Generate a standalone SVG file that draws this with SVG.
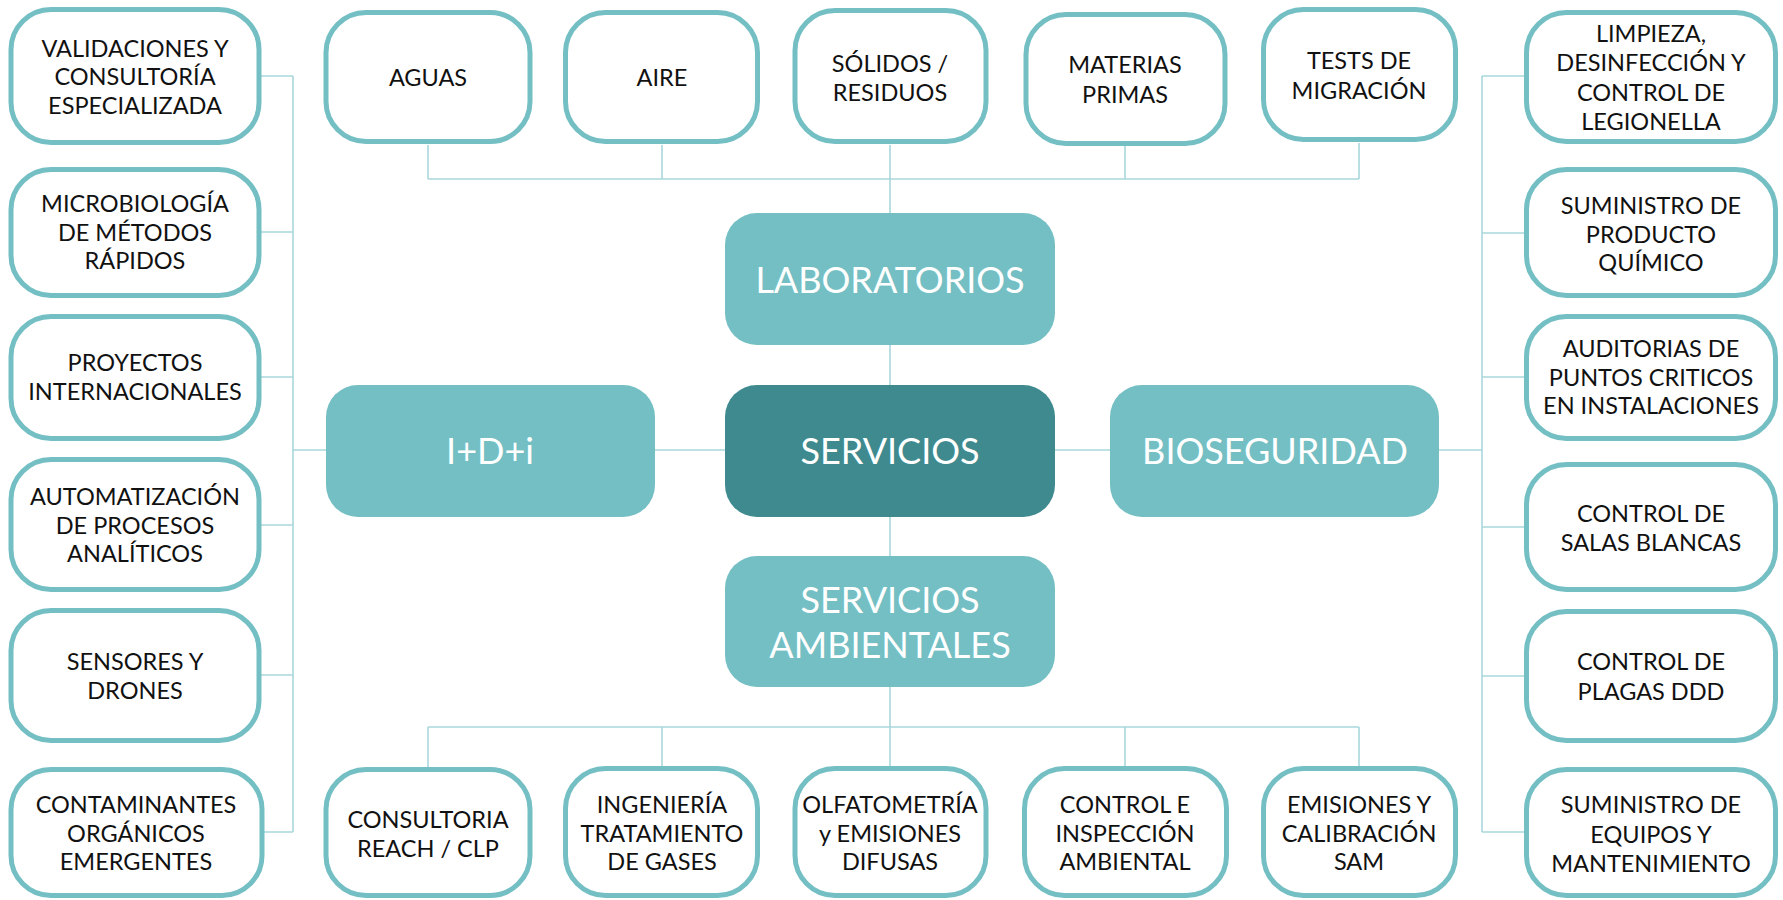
<svg xmlns="http://www.w3.org/2000/svg" width="1783" height="900" viewBox="0 0 1783 900">
<style>
.box{fill:#fff;stroke:#74BFC4;stroke-width:5}
.hub{fill:#74BFC4}
.core{fill:#3E8A8F}
.t{font-family:Lato,"Open Sans","DejaVu Sans",sans-serif;font-size:23.5px;fill:#111;text-anchor:middle}
.b{font-family:Lato,"Open Sans","DejaVu Sans",sans-serif;font-size:36px;fill:#fff;text-anchor:middle}
.c{fill:none;stroke:#A9D7DC;stroke-width:1.6}
</style>
<rect width="1783" height="900" fill="#fff"/>
<g id="connectors">
<path class="c" d="M261 76H293M261 232H293M261 377H293M261 525H293M261 675H293M261 832H293M293 76V832M293 450H326"/>
<path class="c" d="M655 450H725M1055 450H1110"/>
<path class="c" d="M1439 450H1482M1482 76V832M1482 76H1524M1482 233H1524M1482 377H1524M1482 527H1524M1482 676H1524M1482 832H1524"/>
<path class="c" d="M428 145V179M662 145V179M890 145V213M1125 145V179M1359 143V179M428 179H1359"/>
<path class="c" d="M890 345V385M890 517V556"/>
<path class="c" d="M890 687V766M428 727H1359M428 727V767M662 727V766M1125 727V766M1359 727V766"/>
</g>
<g id="n-validaciones"><rect class="box" x="11" y="9.5" width="248" height="133" rx="40"/><text class="t"><tspan x="135" y="56.6">VALIDACIONES Y</tspan><tspan x="135" y="85.1">CONSULTORÍA</tspan><tspan x="135" y="113.6">ESPECIALIZADA</tspan></text></g>
<g id="n-microbiologia"><rect class="box" x="11" y="169.5" width="248" height="126" rx="40"/><text class="t"><tspan x="135" y="212.1">MICROBIOLOGÍA</tspan><tspan x="135" y="240.6">DE MÉTODOS</tspan><tspan x="135" y="269.1">RÁPIDOS</tspan></text></g>
<g id="n-proyectos"><rect class="box" x="11" y="316.5" width="248" height="122" rx="40"/><text class="t"><tspan x="135" y="371.4">PROYECTOS</tspan><tspan x="135" y="399.9">INTERNACIONALES</tspan></text></g>
<g id="n-automatizacion"><rect class="box" x="11" y="459.5" width="248" height="130" rx="40"/><text class="t"><tspan x="135" y="505.1">AUTOMATIZACIÓN</tspan><tspan x="135" y="533.6">DE PROCESOS</tspan><tspan x="135" y="562.1">ANALÍTICOS</tspan></text></g>
<g id="n-sensores"><rect class="box" x="11" y="610.5" width="248" height="130" rx="40"/><text class="t"><tspan x="135" y="670.4">SENSORES Y</tspan><tspan x="135" y="698.9">DRONES</tspan></text></g>
<g id="n-contaminantes"><rect class="box" x="11" y="769.5" width="251" height="126" rx="40"/><text class="t"><tspan x="136" y="813.1">CONTAMINANTES</tspan><tspan x="136" y="841.6">ORGÁNICOS</tspan><tspan x="136" y="870.1">EMERGENTES</tspan></text></g>

<g id="n-aguas"><rect class="box" x="326" y="12.5" width="204" height="129" rx="40"/><text class="t"><tspan x="428" y="85.6">AGUAS</tspan></text></g>
<g id="n-aire"><rect class="box" x="565.5" y="12.5" width="192" height="129" rx="40"/><text class="t"><tspan x="662" y="85.6">AIRE</tspan></text></g>
<g id="n-solidos"><rect class="box" x="795" y="10.5" width="191" height="131" rx="40"/><text class="t"><tspan x="890" y="71.6">SÓLIDOS /</tspan><tspan x="890" y="101.1">RESIDUOS</tspan></text></g>
<g id="n-materias"><rect class="box" x="1026" y="14.5" width="199" height="129" rx="40"/><text class="t"><tspan x="1125" y="72.6">MATERIAS</tspan><tspan x="1125" y="103.1">PRIMAS</tspan></text></g>
<g id="n-tests"><rect class="box" x="1263.5" y="9.5" width="192" height="130" rx="40"/><text class="t"><tspan x="1359" y="68.6">TESTS DE</tspan><tspan x="1359" y="99.1">MIGRACIÓN</tspan></text></g>

<g id="n-laboratorios"><rect class="hub" x="725" y="213" width="330" height="132" rx="32"/><text class="b"><tspan x="890" y="292.5">LABORATORIOS</tspan></text></g>
<g id="n-idi"><rect class="hub" x="326" y="385" width="329" height="132" rx="32"/><text class="b"><tspan x="490" y="464">I+D+i</tspan></text></g>
<g id="n-servicios"><rect class="core" x="725" y="385" width="330" height="132" rx="32"/><text class="b"><tspan x="890" y="464">SERVICIOS</tspan></text></g>
<g id="n-bioseguridad"><rect class="hub" x="1110" y="385" width="329" height="132" rx="32"/><text class="b"><tspan x="1275" y="464">BIOSEGURIDAD</tspan></text></g>
<g id="n-ambientales"><rect class="hub" x="725" y="556" width="330" height="131" rx="32"/><text class="b"><tspan x="890" y="613">SERVICIOS</tspan><tspan x="890" y="658">AMBIENTALES</tspan></text></g>

<g id="n-consultoria"><rect class="box" x="326" y="769.5" width="204" height="126" rx="40"/><text class="t"><tspan x="428" y="828.4">CONSULTORIA</tspan><tspan x="428" y="856.9">REACH / CLP</tspan></text></g>
<g id="n-ingenieria"><rect class="box" x="565.5" y="768.5" width="192" height="127" rx="40"/><text class="t"><tspan x="662" y="813.1">INGENIERÍA</tspan><tspan x="662" y="841.6">TRATAMIENTO</tspan><tspan x="662" y="870.1">DE GASES</tspan></text></g>
<g id="n-olfatometria"><rect class="box" x="795" y="768.5" width="191" height="127" rx="40"/><text class="t"><tspan x="890" y="813.1">OLFATOMETRÍA</tspan><tspan x="890" y="841.6">y EMISIONES</tspan><tspan x="890" y="870.1">DIFUSAS</tspan></text></g>
<g id="n-control"><rect class="box" x="1024.5" y="768.5" width="202" height="127" rx="40"/><text class="t"><tspan x="1125" y="813.1">CONTROL E</tspan><tspan x="1125" y="841.6">INSPECCIÓN</tspan><tspan x="1125" y="870.1">AMBIENTAL</tspan></text></g>
<g id="n-emisiones"><rect class="box" x="1263.5" y="768.5" width="192" height="127" rx="40"/><text class="t"><tspan x="1359" y="813.1">EMISIONES Y</tspan><tspan x="1359" y="841.6">CALIBRACIÓN</tspan><tspan x="1359" y="870.1">SAM</tspan></text></g>

<g id="n-limpieza"><rect class="box" x="1526.5" y="12.5" width="249" height="129" rx="40"/><text class="t"><tspan x="1651" y="41.6">LIMPIEZA,</tspan><tspan x="1651" y="71.1">DESINFECCIÓN Y</tspan><tspan x="1651" y="100.6">CONTROL DE</tspan><tspan x="1651" y="130.1">LEGIONELLA</tspan></text></g>
<g id="n-suministro-quimico"><rect class="box" x="1526.5" y="169.5" width="249" height="126" rx="40"/><text class="t"><tspan x="1651" y="214.1">SUMINISTRO DE</tspan><tspan x="1651" y="242.6">PRODUCTO</tspan><tspan x="1651" y="271.1">QUÍMICO</tspan></text></g>
<g id="n-auditorias"><rect class="box" x="1526.5" y="316.5" width="249" height="122" rx="40"/><text class="t"><tspan x="1651" y="357.1">AUDITORIAS DE</tspan><tspan x="1651" y="385.6">PUNTOS CRITICOS</tspan><tspan x="1651" y="414.1">EN INSTALACIONES</tspan></text></g>
<g id="n-salas"><rect class="box" x="1526.5" y="464.5" width="249" height="125" rx="40"/><text class="t"><tspan x="1651" y="522.4">CONTROL DE</tspan><tspan x="1651" y="550.9">SALAS BLANCAS</tspan></text></g>
<g id="n-plagas"><rect class="box" x="1526.5" y="611.5" width="249" height="129" rx="40"/><text class="t"><tspan x="1651" y="670.4">CONTROL DE</tspan><tspan x="1651" y="699.9">PLAGAS DDD</tspan></text></g>
<g id="n-suministro-equipos"><rect class="box" x="1526.5" y="769.5" width="249" height="126" rx="40"/><text class="t"><tspan x="1651" y="813.1">SUMINISTRO DE</tspan><tspan x="1651" y="842.6">EQUIPOS Y</tspan><tspan x="1651" y="872.1">MANTENIMIENTO</tspan></text></g>
</svg>
